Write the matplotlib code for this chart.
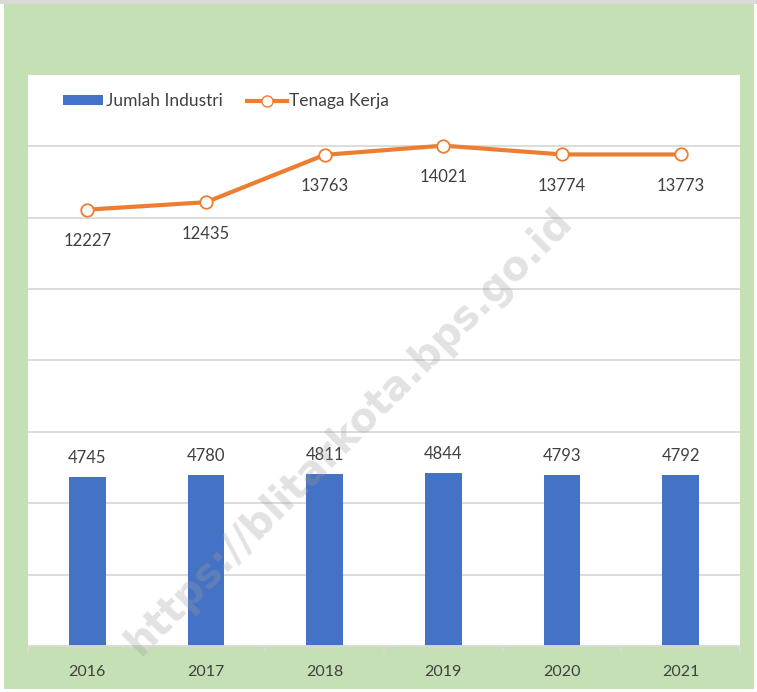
import matplotlib
matplotlib.use("Agg")
import matplotlib.pyplot as plt
from matplotlib.patches import Rectangle
from matplotlib.lines import Line2D
from matplotlib.patches import Patch

years = ["2016", "2017", "2018", "2019", "2020", "2021"]
jumlah_industri = [4745, 4780, 4811, 4844, 4793, 4792]
tenaga_kerja = [12227, 12435, 13763, 14021, 13774, 13773]

BLUE = "#4472C4"
ORANGE = "#ED7D31"
GREEN = "#C5E0B4"
TXT = "#404040"
FONT = "Lato"

W, H = 757, 692
fig = plt.figure(figsize=(W / 100, H / 100), dpi=100)
fig.patch.set_facecolor("white")
# outer green panel with thin gray top strip
fig.patches.append(Rectangle((0, 1 - 4 / H), 1, 4 / H, transform=fig.transFigure,
                             facecolor="#D9D9D9", edgecolor="none", zorder=-5))
fig.patches.append(Rectangle((4 / W, 3 / H), 1 - 7 / W, 1 - 7 / H, transform=fig.transFigure,
                             facecolor=GREEN, edgecolor="none", zorder=-5))

ax = fig.add_axes([28 / W, (H - 646) / H, (740 - 28) / W, (646 - 75) / H])
ax.set_zorder(1)
ax.set_facecolor("white")
x = list(range(len(years)))

ax.set_ylim(0, 16000)
ax.set_xlim(-0.5, len(years) - 0.5)
ax.set_yticks(range(2000, 16000, 2000))
ax.yaxis.grid(True, color="#D9D9D9", linewidth=1.3)
ax.set_axisbelow(True)
ax.tick_params(axis="y", left=False, labelleft=False)
for s in ["top", "left", "right"]:
    ax.spines[s].set_visible(False)
ax.spines["bottom"].set_color("#D9D9D9")
ax.spines["bottom"].set_linewidth(1.3)

ax.set_xticks(x)
ax.set_xticklabels(years, fontsize=11.5, color=TXT, family=FONT)
ax.tick_params(axis="x", length=0, pad=14)
ax.set_xticks([i - 0.5 for i in range(len(years) + 1)], minor=True)
ax.tick_params(axis="x", which="minor", length=5, color="#D9D9D9", width=1.3)

bars = ax.bar(x, jumlah_industri, width=0.31, color=BLUE, zorder=2)
for xi, v in zip(x, jumlah_industri):
    ax.annotate(str(v), (xi, v), xytext=(0, 8), textcoords="offset points",
                ha="center", va="bottom", fontsize=12, color=TXT, family=FONT)

ax.plot(x, tenaga_kerja, color=ORANGE, linewidth=3, marker="o", markersize=9,
        markerfacecolor="white", markeredgecolor=ORANGE, markeredgewidth=1.3, zorder=3)
for xi, v in zip(x, tenaga_kerja):
    ax.annotate(str(v), (xi, v), xytext=(0, -17), textcoords="offset points",
                ha="center", va="top", fontsize=12, color=TXT, family=FONT)

handles = [Patch(facecolor=BLUE, edgecolor="none"),
           Line2D([0], [0], color=ORANGE, linewidth=3, marker="o", markersize=8,
                  markerfacecolor="white", markeredgecolor=ORANGE)]
leg = ax.legend(handles, ["Jumlah Industri", "Tenaga Kerja"], loc="upper left",
                bbox_to_anchor=(0.037, 0.983), ncol=2, frameon=False, borderpad=0,
                prop={"family": FONT, "size": 12.5}, labelcolor=TXT,
                handlelength=2.3, handleheight=0.5, handletextpad=0.15, columnspacing=1.4)

fig.text(349 / W, 1 - 432 / H, "https://blitarkota.bps.go.id", rotation=45,
         ha="center", va="center", fontsize=29, fontweight="bold",
         family="DejaVu Sans", color="#9E9E9E", alpha=0.3, zorder=10)

fig.savefig("out.png", dpi=100, facecolor=fig.get_facecolor())
